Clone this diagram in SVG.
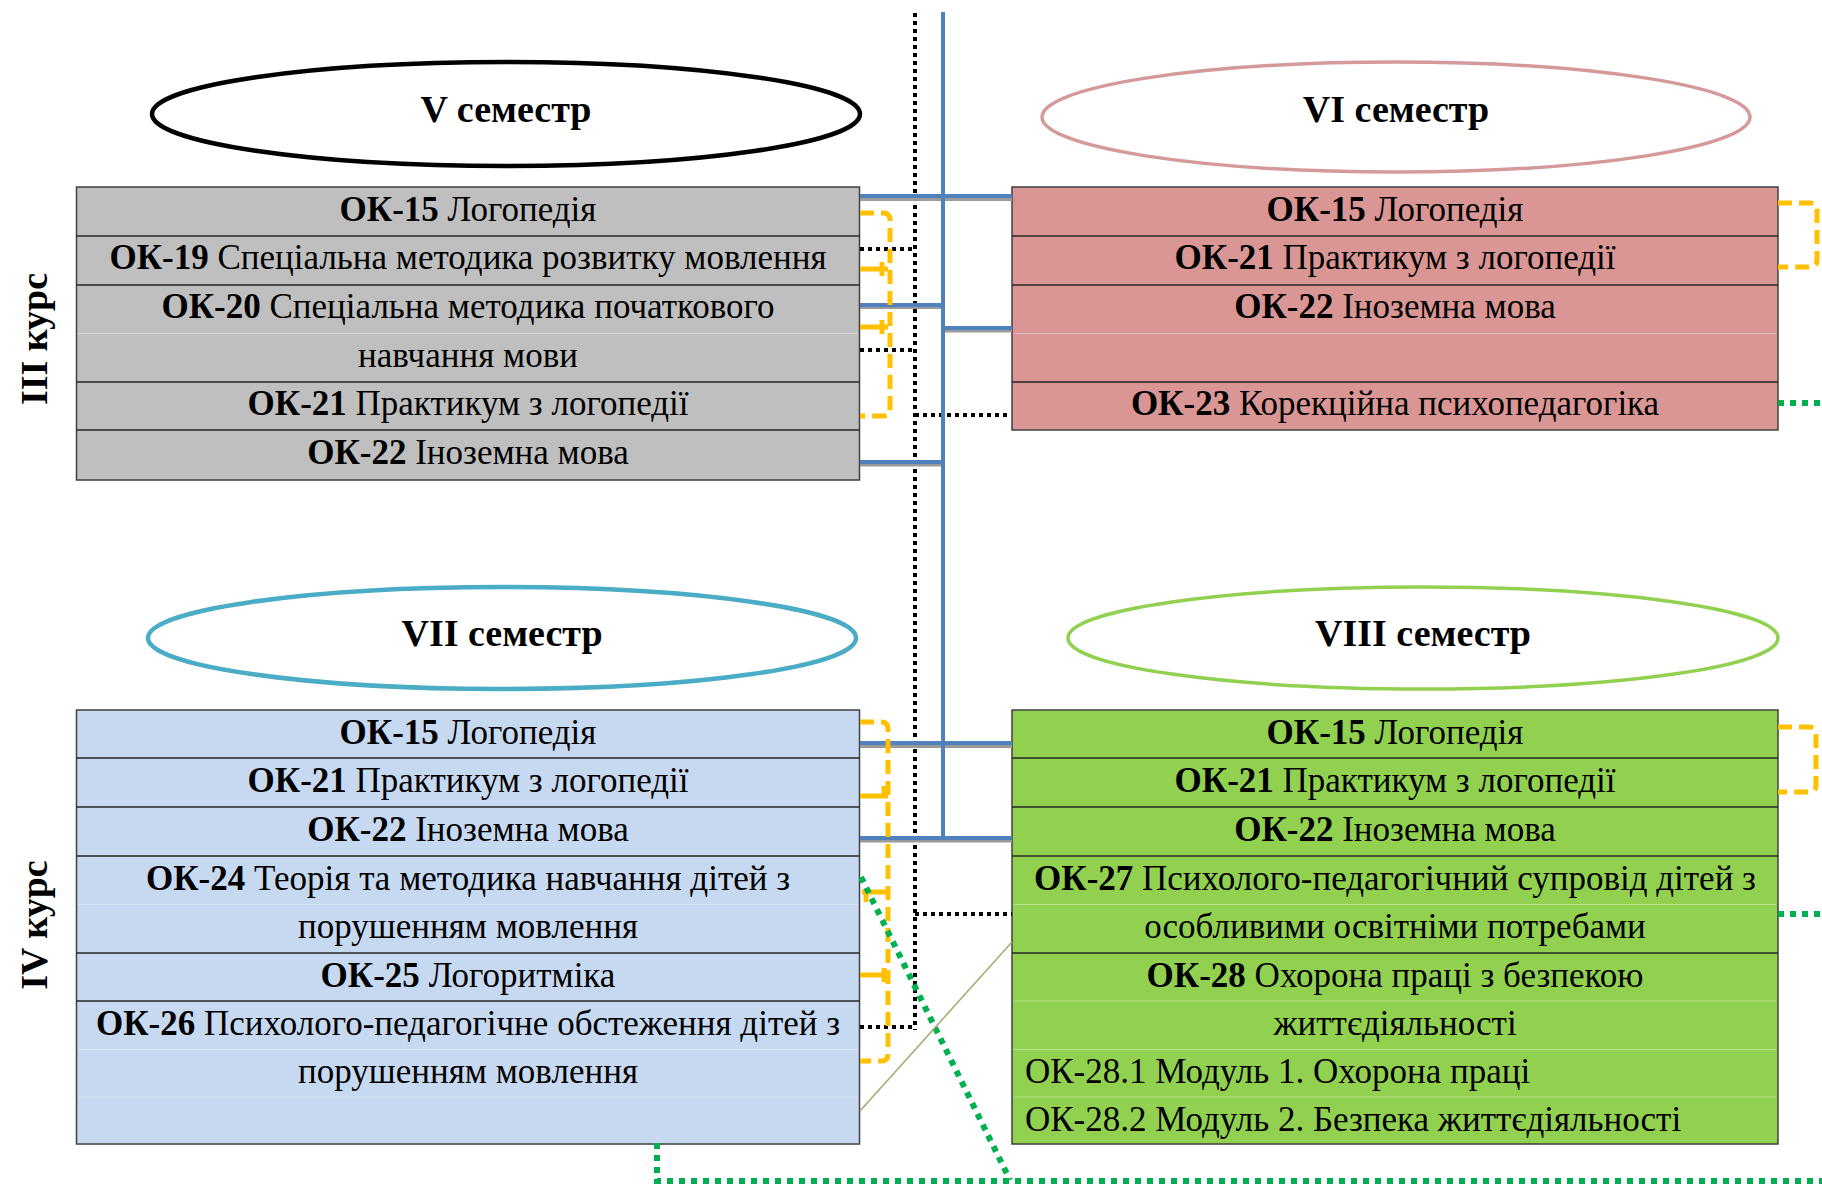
<svg xmlns="http://www.w3.org/2000/svg" width="1822" height="1184" viewBox="0 0 1822 1184">
<style>
text{font-family:"Liberation Serif","Times New Roman",serif;fill:#000}
.t{font-size:35px;text-anchor:middle}
.tl{font-size:35px;text-anchor:start}
.b{font-weight:bold}
.h{font-size:38px;font-weight:bold;text-anchor:middle}
.kurs{font-size:38px;font-weight:bold;text-anchor:middle}
.box{stroke:#404040;stroke-width:1.5}
.div{stroke:#262626;stroke-width:1.5}
.faint{stroke:#ffffff;stroke-opacity:0.35;stroke-width:1.2}
.blue{stroke:#4f81bd;stroke-width:4;fill:none}
.shadow{stroke:#9a9a9a;stroke-width:3;fill:none}
.bdot{stroke:#000;stroke-width:4;stroke-dasharray:4 4;fill:none}
.gdot{stroke:#00b050;stroke-width:6;stroke-dasharray:6 6;fill:none}
.odash{stroke:#ffc000;stroke-width:5;stroke-dasharray:14 7;fill:none;stroke-linejoin:round}
.otick{stroke:#ffc000;stroke-width:5;fill:none}
.olive{stroke:#a6a86a;stroke-width:1.5;fill:none}
</style>

<g id="kurs-labels">
<text class="kurs" transform="translate(47,339) rotate(-90)">III курс</text>
<text class="kurs" transform="translate(47,925) rotate(-90)">IV курс</text>
</g>

<g id="sem5">
<ellipse cx="506" cy="114" rx="354" ry="52" fill="#fff" stroke="#000" stroke-width="4.5"/>
<text class="h" x="506" y="122">V семестр</text>
</g>
<g id="sem6">
<ellipse cx="1396" cy="117" rx="354" ry="55" fill="#fff" stroke="#d49a9a" stroke-width="3.5"/>
<text class="h" x="1396" y="122">VI семестр</text>
</g>
<g id="sem7">
<ellipse cx="502" cy="638" rx="354" ry="51" fill="#fff" stroke="#4bacc6" stroke-width="4.5"/>
<text class="h" x="502" y="646">VII семестр</text>
</g>
<g id="sem8">
<ellipse cx="1423" cy="638" rx="355" ry="51" fill="#fff" stroke="#92d050" stroke-width="3.5"/>
<text class="h" x="1423" y="646">VIII семестр</text>
</g>

<g id="box5">
<rect class="box" x="76.5" y="187" width="783" height="293" fill="#bfbfbf"/>
<line class="faint" x1="78" y1="333.5" x2="858" y2="333.5"/>
<path class="div" d="M76.5 236H859.5M76.5 285H859.5M76.5 382H859.5M76.5 430H859.5"/>
<text class="t" x="468" y="221"><tspan class="b">ОК-15</tspan> Логопедія</text>
<text class="t" x="468" y="269"><tspan class="b">ОК-19</tspan> Спеціальна методика розвитку мовлення</text>
<text class="t" x="468" y="318"><tspan class="b">ОК-20</tspan> Спеціальна методика початкового</text>
<text class="t" x="468" y="367">навчання мови</text>
<text class="t" x="468" y="415"><tspan class="b">ОК-21</tspan> Практикум з логопедії</text>
<text class="t" x="468" y="464"><tspan class="b">ОК-22</tspan> Іноземна мова</text>
</g>

<g id="box6">
<rect class="box" x="1012" y="187" width="766" height="243" fill="#d99694"/>
<line class="faint" x1="1014" y1="333.5" x2="1776" y2="333.5"/>
<path class="div" d="M1012 236H1778M1012 285H1778M1012 382H1778"/>
<text class="t" x="1395" y="221"><tspan class="b">ОК-15</tspan> Логопедія</text>
<text class="t" x="1395" y="269"><tspan class="b">ОК-21</tspan> Практикум з логопедії</text>
<text class="t" x="1395" y="318"><tspan class="b">ОК-22</tspan> Іноземна мова</text>
<text class="t" x="1395" y="415"><tspan class="b">ОК-23</tspan> Корекційна психопедагогіка</text>
</g>

<g id="box7">
<rect class="box" x="76.5" y="710" width="783" height="434" fill="#c6d9f1"/>
<path class="faint" d="M78 904.5H858M78 1049.5H858M78 1097H858"/>
<path class="div" d="M76.5 758H859.5M76.5 807H859.5M76.5 856H859.5M76.5 953H859.5M76.5 1001H859.5"/>
<text class="t" x="468" y="744"><tspan class="b">ОК-15</tspan> Логопедія</text>
<text class="t" x="468" y="792"><tspan class="b">ОК-21</tspan> Практикум з логопедії</text>
<text class="t" x="468" y="841"><tspan class="b">ОК-22</tspan> Іноземна мова</text>
<text class="t" x="468" y="890"><tspan class="b">ОК-24</tspan> Теорія та методика навчання дітей з</text>
<text class="t" x="468" y="938">порушенням мовлення</text>
<text class="t" x="468" y="987"><tspan class="b">ОК-25</tspan> Логоритміка</text>
<text class="t" x="468" y="1035"><tspan class="b">ОК-26</tspan> Психолого-педагогічне обстеження дітей з</text>
<text class="t" x="468" y="1083">порушенням мовлення</text>
</g>

<g id="box8">
<rect class="box" x="1012" y="710" width="766" height="434" fill="#92d050"/>
<path class="faint" d="M1014 904.5H1776M1014 1001H1776M1014 1049.5H1776M1014 1097H1776"/>
<path class="div" d="M1012 758H1778M1012 807H1778M1012 856H1778M1012 953H1778"/>
<text class="t" x="1395" y="744"><tspan class="b">ОК-15</tspan> Логопедія</text>
<text class="t" x="1395" y="792"><tspan class="b">ОК-21</tspan> Практикум з логопедії</text>
<text class="t" x="1395" y="841"><tspan class="b">ОК-22</tspan> Іноземна мова</text>
<text class="t" x="1395" y="890"><tspan class="b">ОК-27</tspan> Психолого-педагогічний супровід дітей з</text>
<text class="t" x="1395" y="938">особливими освітніми потребами</text>
<text class="t" x="1395" y="987"><tspan class="b">ОК-28</tspan> Охорона праці з безпекою</text>
<text class="t" x="1395" y="1035">життєдіяльності</text>
<text class="tl" x="1025" y="1083">ОК-28.1 Модуль 1. Охорона праці</text>
<text class="tl" x="1025" y="1131">ОК-28.2 Модуль 2. Безпека життєдіяльності</text>
</g>

<g id="connectors">
<path class="bdot" d="M915 13V1030"/>
<path class="bdot" d="M860 249H915M860 350H915M915 415H1010M915 914H1012M860 1027H915"/>
<path class="shadow" d="M860 199.5H1012M860 307.5H943M943 331H1012M860 465H943M860 746.5H1012M860 841H1012"/>
<path class="blue" d="M860 196H1012M860 305H943M943 328H1012M860 462H943M860 743H1012M860 838H1012"/>
<path class="blue" stroke-width="3.5" d="M943 12V840"/>
<path class="odash" d="M860 213H883Q890 213 890 220V409Q890 416 883 416H860"/>
<path class="otick" d="M860 269H888M882 262V276M860 327H888M882 320V334"/>
<path class="odash" d="M860 722H881Q888 722 888 729V1054Q888 1061 881 1061H860"/>
<path class="otick" d="M860 796H888M884 786V796M862 892H888M866 892V902M860 975H888M884 968V982"/>
<path class="odash" d="M1778 203H1810Q1817 203 1817 210V260Q1817 267 1810 267H1778"/>
<path class="odash" d="M1778 727H1809Q1816 727 1816 734V785Q1816 792 1809 792H1778"/>
<path class="gdot" d="M861 877L1010 1180"/>
<path class="gdot" d="M657 1143V1181H1822"/>
<path class="gdot" d="M1778 403H1822M1778 914H1822"/>
<path class="olive" d="M860 1111L1012 942"/>
</g>
</svg>
